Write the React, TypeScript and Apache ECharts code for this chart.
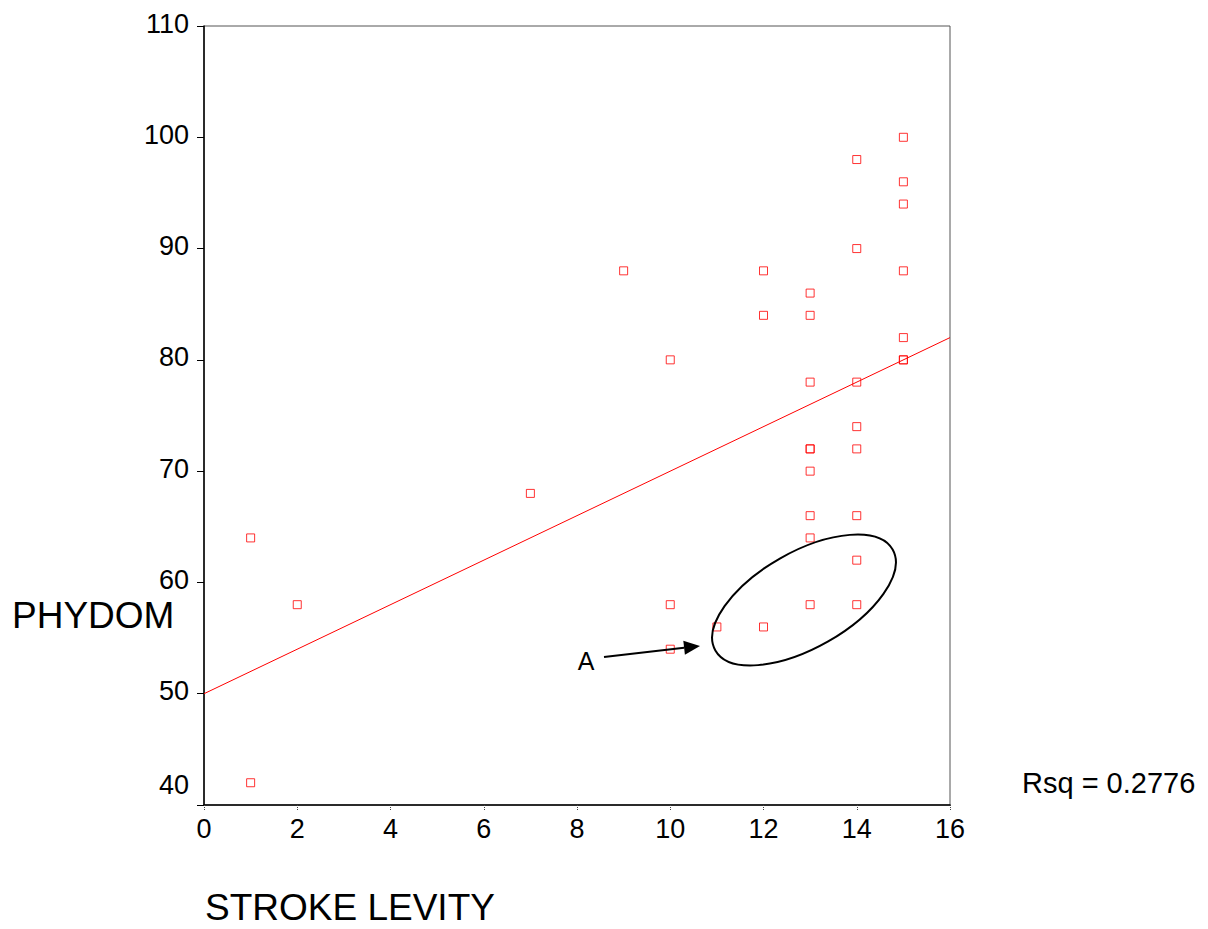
import React, { useEffect, useRef } from "react";
import * as echarts from "echarts";

// Scatter data: STROKE LEVITY (x) vs PHYDOM (y)
const strokeLevity = [1, 1, 2, 7, 9, 10, 10, 10, 11, 12, 12, 12, 13, 13, 13, 13, 13, 13, 13, 13, 13, 14, 14, 14, 14, 14, 14, 14, 14, 15, 15, 15, 15, 15, 15, 15];
const phydom = [64, 42, 58, 68, 88, 80, 58, 54, 56, 88, 84, 56, 86, 84, 78, 72, 72, 70, 66, 64, 58, 98, 90, 78, 74, 72, 66, 62, 58, 100, 96, 94, 88, 82, 80, 80];

// Fitted regression line endpoints
const fitX = [0, 16];
const fitY = [50, 82];

const xTicks = { min: 0, max: 16, interval: 2 };
const yTicks = { min: 40, max: 110, interval: 10 };

const xTitle = "STROKE LEVITY";
const yTitle = "PHYDOM";
const rsqText = "Rsq = 0.2776";
const annotationLabel = "A";

const FONT = "'Liberation Sans', Arial, Helvetica, sans-serif";

export default function App() {
  const ref = useRef<HTMLDivElement>(null);

  useEffect(() => {
    if (!ref.current) return;
    const chart = echarts.init(ref.current, undefined, { renderer: "svg" });

    const points = strokeLevity.map((x, i) => [x, phydom[i]]);
    const fitLine = fitX.map((x, i) => [x, fitY[i]]);

    // arrow geometry
    const tail = [604, 657];
    const tip = [700, 646];
    const dx = tip[0] - tail[0];
    const dy = tip[1] - tail[1];
    const len = Math.sqrt(dx * dx + dy * dy);
    const ux = dx / len;
    const uy = dy / len;
    const headLen = 16;
    const headHalf = 7;
    const bx = tip[0] - ux * headLen;
    const by = tip[1] - uy * headLen;
    const px = -uy;
    const py = ux;

    chart.setOption({
      animation: false,
      backgroundColor: "#ffffff",
      textStyle: { fontFamily: FONT },
      grid: {
        left: 204,
        right: 258,
        top: 26,
        bottom: 124,
        show: true,
        borderColor: "#555555",
        borderWidth: 1,
        backgroundColor: "transparent",
      },
      xAxis: {
        type: "value",
        min: xTicks.min,
        max: xTicks.max,
        interval: xTicks.interval,
        splitLine: { show: false },
        axisLine: { show: true, onZero: false, lineStyle: { color: "#000", width: 1.5 } },
        axisTick: { show: true, length: 5, lineStyle: { color: "#444", width: 1, type: "dotted" } },
        axisLabel: { fontSize: 27, color: "#000", fontFamily: FONT, margin: 10 },
      },
      yAxis: {
        type: "value",
        min: yTicks.min,
        max: yTicks.max,
        interval: yTicks.interval,
        splitLine: { show: false },
        axisLine: { show: true, onZero: false, lineStyle: { color: "#000", width: 1.5 } },
        axisTick: { show: true, length: 7, lineStyle: { color: "#000", width: 1 } },
        axisLabel: {
          color: "#000",
          fontFamily: FONT,
          margin: 15,
          formatter: (v: number) => (v === yTicks.min ? "{low|" + v + "}" : "{n|" + v + "}"),
          rich: {
            n: { fontSize: 27, fontFamily: FONT, color: "#000", padding: [0, 0, 5, 0] },
            low: { fontSize: 27, fontFamily: FONT, color: "#000", padding: [0, 0, 40, 0] },
          },
        },
      },
      series: [
        {
          type: "line",
          data: fitLine,
          showSymbol: false,
          symbol: "none",
          lineStyle: { color: "#ff0000", width: 1 },
          silent: true,
          z: 2,
        },
        {
          type: "scatter",
          data: points,
          symbol: "rect",
          symbolSize: [8, 8],
          itemStyle: { color: "rgba(255,255,255,0)", borderColor: "#ff0000", borderWidth: 1 },
          z: 3,
        },
      ],
      graphic: [
        {
          type: "ellipse",
          x: 804,
          y: 600,
          rotation: (29.6 * Math.PI) / 180,
          shape: { cx: 0, cy: 0, rx: 102, ry: 48 },
          style: { fill: "none", stroke: "#000", lineWidth: 2 },
          z: 10,
        },
        {
          type: "line",
          shape: { x1: tail[0], y1: tail[1], x2: bx, y2: by },
          style: { stroke: "#000", lineWidth: 2 },
          z: 10,
        },
        {
          type: "polygon",
          shape: {
            points: [
              [tip[0], tip[1]],
              [bx + px * headHalf, by + py * headHalf],
              [bx - px * headHalf, by - py * headHalf],
            ],
          },
          style: { fill: "#000" },
          z: 10,
        },
        {
          type: "text",
          x: 586,
          y: 661,
          style: {
            text: annotationLabel,
            fontSize: 25,
            fontFamily: FONT,
            fill: "#000",
            align: "center",
            verticalAlign: "middle",
          },
          z: 10,
        },
        {
          type: "text",
          x: 12,
          y: 615,
          style: {
            text: yTitle,
            fontSize: 37,
            fontFamily: FONT,
            fill: "#000",
            align: "left",
            verticalAlign: "middle",
          },
        },
        {
          type: "text",
          x: 205,
          y: 907,
          style: {
            text: xTitle,
            fontSize: 37,
            fontFamily: FONT,
            fill: "#000",
            align: "left",
            verticalAlign: "middle",
          },
        },
        {
          type: "text",
          x: 1022,
          y: 783,
          style: {
            text: rsqText,
            fontSize: 29,
            fontFamily: FONT,
            fill: "#000",
            align: "left",
            verticalAlign: "middle",
          },
        },
      ],
    });

    return () => {
      chart.dispose();
    };
  }, []);

  return (
    <div
      ref={ref}
      style={{ position: "absolute", left: 0, top: 0, width: 1208, height: 929, background: "#fff" }}
    />
  );
}
